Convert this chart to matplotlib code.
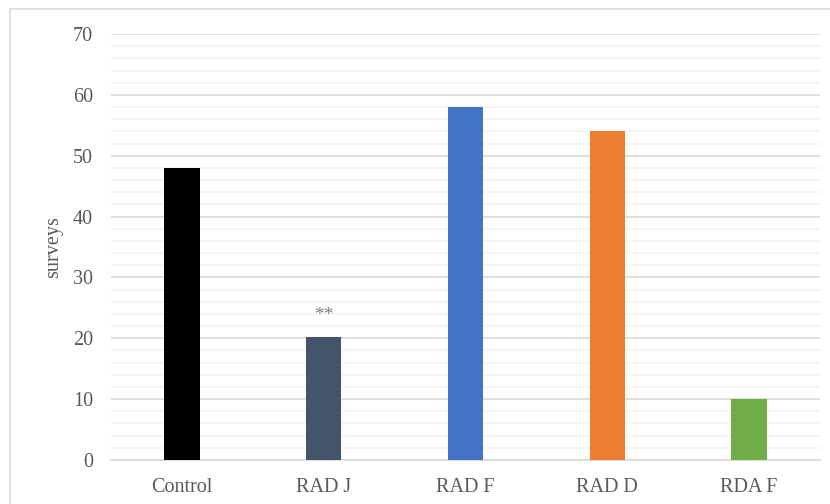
from matplotlib import pyplot as plt
from matplotlib.ticker import MultipleLocator
import matplotlib.lines as mlines

plt.rcParams["font.family"] = ["Liberation Serif", "DejaVu Serif"]

groups = ["Control", "RAD J", "RAD F", "RAD D", "RDA F"]
surveys = [48, 20.2, 58, 54, 10]
colors = ["#000000", "#44546A", "#4472C4", "#ED7D31", "#70AD47"]
# significance mark
mark_group = "RAD J"
mark_text = "**"

fig = plt.figure(figsize=(8.3, 5.04), dpi=100)
ax = fig.add_axes([0.1337, 0.0873, 0.8542, 0.8452])

x = list(range(len(groups)))
ax.bar(x, surveys, width=0.25, color=colors, zorder=3)

i = groups.index(mark_group)
ax.text(x[i], surveys[i] + 3.6, mark_text, ha="center", va="center",
        fontsize=14, color="#7f7f7f")

ax.set_xlim(-0.5, len(groups) - 0.5)
ax.set_ylim(0, 70)
ax.yaxis.set_major_locator(MultipleLocator(10))
ax.yaxis.set_minor_locator(MultipleLocator(2))
ax.grid(axis="y", which="major", color="#d9d9d9", linewidth=1.2, zorder=0)
ax.grid(axis="y", which="minor", color="#f2f2f2", linewidth=1.1, zorder=0)

ax.set_xticks(x)
ax.set_xticklabels(groups)
ax.tick_params(axis="both", which="both", length=0, labelsize=14.5, labelcolor="#595959")
ax.tick_params(axis="x", pad=13)
ax.tick_params(axis="y", pad=13)

for s in ["top", "right", "left"]:
    ax.spines[s].set_visible(False)
ax.spines["bottom"].set_color("#d9d9d9")
ax.spines["bottom"].set_linewidth(1.2)

ax.set_ylabel("surveys", fontsize=14.5, color="#595959")
ax.yaxis.set_label_coords(-0.067, 0.5)

# chart frame
fig.add_artist(mlines.Line2D([10 / 830, 10 / 830], [0, 1 - 9 / 504], color="#d9d9d9", lw=1.2))
fig.add_artist(mlines.Line2D([10 / 830, 1], [1 - 9 / 504, 1 - 9 / 504], color="#d9d9d9", lw=1.2))

plt.savefig("out.png")
